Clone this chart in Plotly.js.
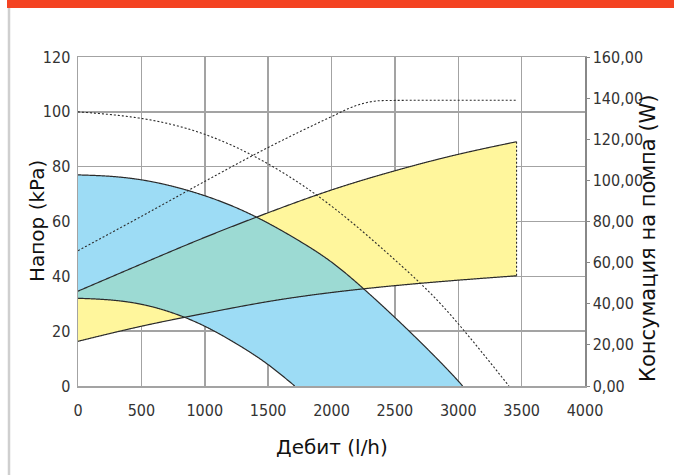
<!DOCTYPE html>
<html><head><meta charset="utf-8">
<script src="https://cdn.plot.ly/plotly-3.0.1.min.js"></script>
<style>html,body{margin:0;padding:0;background:#fff}#chart{width:674px;height:475px}</style>
</head><body><div id="chart"></div>
<script>
// Pump curve at maximum speed (kPa vs l/h)
const maxFlow = [0, 250, 500, 750, 1000, 1250, 1500, 1750, 2000, 2250, 2500, 2750, 3000, 3035];
const maxHead = [77, 76.5, 75.2, 72.8, 69.4, 65, 59.4, 52.8, 45.2, 35.6, 25, 13.8, 1.8, 0];
// Pump curve at minimum speed
const minFlow = [0, 250, 500, 750, 1000, 1250, 1500, 1710];
const minHead = [32, 31.4, 29.8, 26.6, 21.8, 15.4, 7.8, 0];
// Working band (system curves)
const sysFlow = [0, 500, 1000, 1500, 2000, 2500, 3000, 3460];
const sysLow  = [16.3, 21.8, 26.5, 30.8, 34.1, 36.6, 38.6, 40.2];
const sysHigh = [34.6, 44.5, 54.2, 63.2, 71.5, 78.5, 84.5, 89.1];
// Dotted head curve (kPa)
const headDotFlow = [0, 500, 1000, 1500, 2000, 2500, 2856, 3053, 3400];
const headDot     = [100, 97.6, 91.8, 81, 65.6, 46, 30.2, 19.8, 0];
// Dotted power curve (W)
const powerFlow = [0, 500, 1000, 1500, 2000, 2200, 2400, 3000, 3460];
const powerW    = [65.8, 82.5, 99.5, 116, 131, 136.5, 138.8, 139, 139];
// Axis ticks
const xTicks  = [0, 500, 1000, 1500, 2000, 2500, 3000, 3500, 4000];
const yTicks  = [0, 20, 40, 60, 80, 100, 120];
const y2Ticks = [0, 20, 40, 60, 80, 100, 120, 140, 160];
const y2Labels = ['0,00', '20,00', '40,00', '60,00', '80,00', '100,00', '120,00', '140,00', '160,00'];

// natural cubic spline through the read points
function natural(xs, ys) {
  const n = xs.length, h = [], M = new Array(n).fill(0);
  for (let i = 0; i < n - 1; i++) h.push(xs[i + 1] - xs[i]);
  if (n > 2) {
    const a = [], b = [], c = [], r = [];
    for (let i = 1; i < n - 1; i++) {
      a.push(h[i - 1]); b.push(2 * (h[i - 1] + h[i])); c.push(h[i]);
      r.push(6 * ((ys[i + 1] - ys[i]) / h[i] - (ys[i] - ys[i - 1]) / h[i - 1]));
    }
    const m = b.length;
    for (let i = 1; i < m; i++) { const w = a[i] / b[i - 1]; b[i] -= w * c[i - 1]; r[i] -= w * r[i - 1]; }
    const sol = new Array(m);
    sol[m - 1] = r[m - 1] / b[m - 1];
    for (let i = m - 2; i >= 0; i--) sol[i] = (r[i] - c[i] * sol[i + 1]) / b[i];
    for (let i = 0; i < m; i++) M[i + 1] = sol[i];
  }
  return function (x) {
    if (x <= xs[0]) return ys[0];
    if (x >= xs[n - 1]) return ys[n - 1];
    let i = 0; while (x > xs[i + 1]) i++;
    const hi = h[i], A = xs[i + 1] - x, B = x - xs[i];
    return M[i] * A * A * A / (6 * hi) + M[i + 1] * B * B * B / (6 * hi)
      + (ys[i] / hi - M[i] * hi / 6) * A + (ys[i + 1] / hi - M[i + 1] * hi / 6) * B;
  };
}
// monotone cubic (for the curve with a flat plateau)
function monotone(xs, ys) {
  const n = xs.length, d = [], m = [];
  for (let i = 0; i < n - 1; i++) d.push((ys[i + 1] - ys[i]) / (xs[i + 1] - xs[i]));
  m[0] = d[0]; m[n - 1] = d[n - 2];
  for (let i = 1; i < n - 1; i++) m[i] = (d[i - 1] * d[i] <= 0) ? 0 : (d[i - 1] + d[i]) / 2;
  for (let i = 0; i < n - 1; i++) {
    if (d[i] === 0) { m[i] = 0; m[i + 1] = 0; continue; }
    const a = m[i] / d[i], b = m[i + 1] / d[i], s = a * a + b * b;
    if (s > 9) { const t = 3 / Math.sqrt(s); m[i] = t * a * d[i]; m[i + 1] = t * b * d[i]; }
  }
  return function (x) {
    if (x <= xs[0]) return ys[0];
    if (x >= xs[n - 1]) return ys[n - 1];
    let i = 0; while (x > xs[i + 1]) i++;
    const h = xs[i + 1] - xs[i], t = (x - xs[i]) / h;
    const h00 = 2*t*t*t - 3*t*t + 1, h10 = t*t*t - 2*t*t + t, h01 = -2*t*t*t + 3*t*t, h11 = t*t*t - t*t;
    return h00 * ys[i] + h10 * h * m[i] + h01 * ys[i + 1] + h11 * h * m[i + 1];
  };
}
function dense(xs, ys, step, kind) {
  const f = (kind === 'mono' ? monotone : natural)(xs, ys), X = [], Y = [];
  const a = xs[0], b = xs[xs.length - 1];
  for (let x = a; x < b; x += step) { X.push(x); Y.push(f(x)); }
  X.push(b); Y.push(ys[ys.length - 1]);
  return { x: X, y: Y, f: f };
}
const STEP = 5;
const cMax = dense(maxFlow, maxHead, STEP);
const cMin = dense(minFlow, minHead, STEP);
const cLow = dense(sysFlow, sysLow, STEP);
const cHigh = dense(sysFlow, sysHigh, STEP);
const cHd = dense(headDotFlow, headDot, STEP);
const cPw = dense(powerFlow, powerW, STEP, 'mono');

const minEnd = minFlow[minFlow.length - 1], maxEnd = maxFlow[maxFlow.length - 1];
const minAt = x => (x <= minEnd ? cMin.f(x) : 0);

const blueX = cMax.x.concat([minEnd], cMin.x.slice().reverse());
const blueY = cMax.y.concat([0], cMin.y.slice().reverse());
const yelX = cHigh.x.concat(cLow.x.slice().reverse());
const yelY = cHigh.y.concat(cLow.y.slice().reverse());
const ovTopX = [], ovTopY = [], ovBotY = [];
for (let x = 0; x <= Math.min(maxEnd, sysFlow[sysFlow.length - 1]); x += 1) {
  const top = Math.min(cHigh.f(x), cMax.f(x));
  const bot = Math.max(cLow.f(x), minAt(x));
  if (top >= bot) { ovTopX.push(x); ovTopY.push(top); ovBotY.push(bot); }
}
const ovX = ovTopX.concat(ovTopX.slice().reverse());
const ovY = ovTopY.concat(ovBotY.slice().reverse());

const lineStyle = { color: '#2b2b2b', width: 1.2, simplify: false };
const dotStyle = { color: '#2b2b2b', width: 1.1, dash: '2px,2px', simplify: false };
const fillLine = { width: 0, simplify: false };
const traces = [
  { x: yelX, y: yelY, fill: 'toself', fillcolor: '#fff69c', line: fillLine, mode: 'lines', hoverinfo: 'skip' },
  { x: blueX, y: blueY, fill: 'toself', fillcolor: '#9ddcf5', line: fillLine, mode: 'lines', hoverinfo: 'skip' },
  { x: ovX, y: ovY, fill: 'toself', fillcolor: '#9cdad3', line: fillLine, mode: 'lines', hoverinfo: 'skip' },
  { x: cMax.x, y: cMax.y, mode: 'lines', line: lineStyle },
  { x: cMin.x, y: cMin.y, mode: 'lines', line: lineStyle },
  { x: cHigh.x, y: cHigh.y, mode: 'lines', line: lineStyle },
  { x: cLow.x, y: cLow.y, mode: 'lines', line: lineStyle },
  { x: [sysFlow[sysFlow.length - 1], sysFlow[sysFlow.length - 1]], y: [sysLow[sysLow.length - 1], sysHigh[sysHigh.length - 1]], mode: 'lines', line: dotStyle },
  { x: cHd.x, y: cHd.y, mode: 'lines', line: dotStyle },
  { x: cPw.x, y: cPw.y, mode: 'lines', line: dotStyle, yaxis: 'y2' }
];

const tickFont = { family: '"DejaVu Sans Condensed", "Liberation Sans Narrow", sans-serif', size: 16, color: '#333' };
const titleFont = { family: '"DejaVu Sans", sans-serif', size: 20, color: '#111' };
const grid = '#a3a3a3';
const px = p => (p - 78) / 507, py = p => (386 - p) / 329;

const layout = {
  width: 674, height: 475,
  margin: { l: 78, r: 89, t: 57, b: 89 },
  paper_bgcolor: '#fff', plot_bgcolor: '#fff',
  showlegend: false,
  xaxis: {
    range: [0, 4000], tickvals: xTicks, ticktext: xTicks.map(String),
    showgrid: true, gridcolor: grid, gridwidth: 1.5, zeroline: false,
    showline: true, mirror: true, linecolor: grid, linewidth: 1.5,
    ticks: 'outside', ticklen: 9, tickcolor: 'rgba(0,0,0,0)',
    tickfont: tickFont
  },
  yaxis: {
    range: [0, 120], tickvals: yTicks, ticktext: yTicks.map(String),
    showgrid: true, gridcolor: grid, gridwidth: 1.5, zeroline: false,
    showline: true, mirror: true, linecolor: grid, linewidth: 1.5,
    ticks: 'outside', ticklen: 3, tickcolor: 'rgba(0,0,0,0)',
    tickfont: tickFont
  },
  yaxis2: {
    range: [0, 160], tickvals: y2Ticks, ticktext: y2Labels,
    overlaying: 'y', side: 'right', showgrid: false, zeroline: false,
    showline: true, linecolor: '#888', linewidth: 1.5,
    ticks: 'outside', ticklen: 3, tickcolor: '#888', tickwidth: 1,
    tickfont: tickFont
  },
  annotations: [
    { text: 'Дебит (l/h)', xref: 'paper', yref: 'paper', x: 0.5, y: py(447), xanchor: 'center', yanchor: 'middle', showarrow: false, font: titleFont },
    { text: 'Напор (kPa)', xref: 'paper', yref: 'paper', x: px(37), y: py(221), xanchor: 'center', yanchor: 'middle', textangle: -90, showarrow: false, font: titleFont },
    { text: 'Консумация на помпа (W)', xref: 'paper', yref: 'paper', x: px(648), y: py(238), xanchor: 'center', yanchor: 'middle', textangle: -90, showarrow: false, font: { family: titleFont.family, size: 21, color: '#111' } }
  ],
  shapes: [
    { type: 'rect', xref: 'paper', yref: 'paper', x0: px(7), x1: 1.3, y0: py(8), y1: 1.3, fillcolor: '#f44322', line: { width: 0 } },
    { type: 'line', xref: 'paper', yref: 'paper', x0: px(9), x1: px(9), y0: py(8), y1: -0.4, line: { color: '#cfcfcf', width: 2.5 } }
  ]
};
Plotly.newPlot('chart', traces, layout, { staticPlot: true, displayModeBar: false });
</script></body></html>
